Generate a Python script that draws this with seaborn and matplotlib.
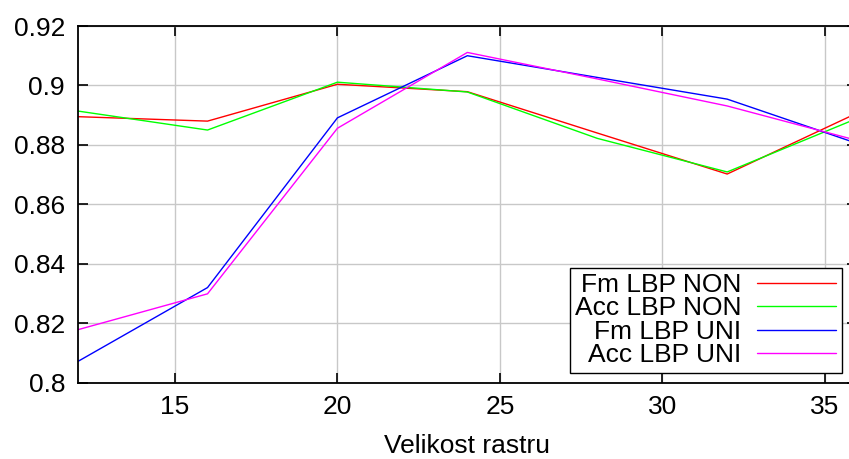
import pandas as pd
import seaborn as sns
import matplotlib
matplotlib.use("Agg")
import matplotlib.pyplot as plt

# data
raster = [12, 16, 20, 24, 28, 32, 36]
fm_lbp_non = [0.8895, 0.8880, 0.9004, 0.8979, 0.8840, 0.8702, 0.8907]
acc_lbp_non = [0.8914, 0.8850, 0.9011, 0.8978, 0.8822, 0.8709, 0.8889]
fm_lbp_uni = [0.8071, 0.8320, 0.8891, 0.9100, 0.9027, 0.8954, 0.8805]
acc_lbp_uni = [0.8178, 0.8299, 0.8856, 0.9111, 0.9022, 0.8931, 0.8815]
series_names = ["Fm LBP NON", "Acc LBP NON", "Fm LBP UNI", "Acc LBP UNI"]
colors = ["#ff0000", "#00ff00", "#0000ff", "#ff00ff"]
x_ticks = [15, 20, 25, 30, 35]
y_ticks = [0.80, 0.82, 0.84, 0.86, 0.88, 0.90, 0.92]
y_tick_labels = ["0.8", "0.82", "0.84", "0.86", "0.88", "0.9", "0.92"]

rows = []
for name, vals in zip(series_names, [fm_lbp_non, acc_lbp_non, fm_lbp_uni, acc_lbp_uni]):
    for x, v in zip(raster, vals):
        rows.append({"raster": x, "value": v, "series": name})
df = pd.DataFrame(rows)

sns.set_style("ticks")
plt.rcParams["font.family"] = ["Liberation Sans", "DejaVu Sans"]
plt.rcParams["text.color"] = "black"
plt.rcParams["axes.labelcolor"] = "black"

fig = plt.figure(figsize=(8.49, 4.59), dpi=100)
ax = fig.add_axes([77.6 / 849, 76.3 / 459, (857.1 - 77.6) / 849, 356.7 / 459])

sns.lineplot(data=df, x="raster", y="value", hue="series", hue_order=series_names,
             palette=colors, linewidth=1.0, ax=ax, legend=True)

ax.set_xlim(12, 36)
ax.set_ylim(0.8, 0.92)
ax.set_xticks(x_ticks)
ax.set_yticks(y_ticks)
ax.set_yticklabels(y_tick_labels)
ax.grid(True, color="#c8c8c8", linewidth=1.0)
ax.set_axisbelow(True)
ax.tick_params(direction="in", length=7, width=1.2, labelsize=19, pad=9,
               top=True, right=True, colors="black")
for sp in ax.spines.values():
    sp.set_color("black")
    sp.set_linewidth(1.3)

ax.set_xlabel("Velikost rastru", fontsize=19, labelpad=11)
ax.set_ylabel("")

handles, labels = ax.get_legend_handles_labels()
leg = ax.legend(handles, labels, loc="lower right",
                bbox_to_anchor=(841.7 / 849, (459 - 372.7) / 459),
                bbox_transform=fig.transFigure, borderaxespad=0,
                fontsize=19, markerfirst=False, handlelength=3.0,
                handletextpad=0.6, labelspacing=-0.02, borderpad=0.2,
                fancybox=False, framealpha=1, edgecolor="black")
leg.get_frame().set_linewidth(1.0)

fig.savefig("out.png", dpi=100)
